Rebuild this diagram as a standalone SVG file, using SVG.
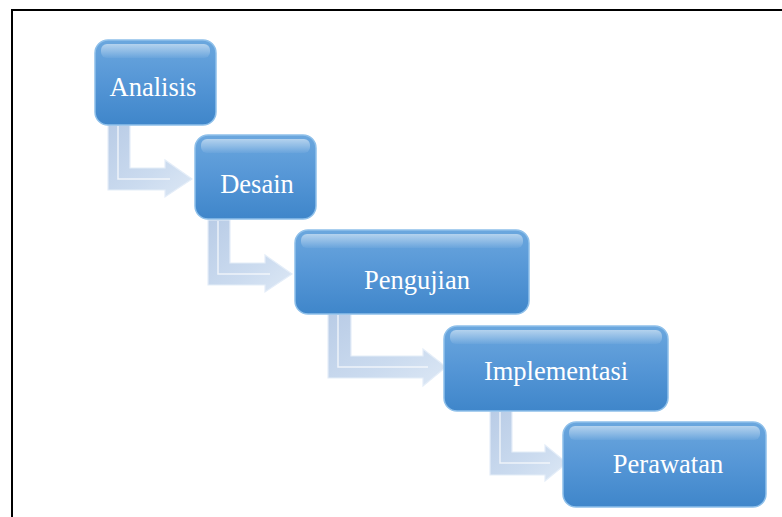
<svg xmlns="http://www.w3.org/2000/svg" width="782" height="517" viewBox="0 0 782 517">
<defs>
<linearGradient id="boxFill" x1="0" y1="0" x2="0" y2="1">
<stop offset="0" stop-color="#6ba7de"/>
<stop offset="0.5" stop-color="#5596d6"/>
<stop offset="1" stop-color="#3f86ca"/>
</linearGradient>
<linearGradient id="gloss" x1="0" y1="0" x2="0" y2="1">
<stop offset="0" stop-color="#ffffff" stop-opacity="0.5"/>
<stop offset="1" stop-color="#ffffff" stop-opacity="0.05"/>
</linearGradient>
<linearGradient id="arrowFill" x1="0" y1="0" x2="1" y2="1">
<stop offset="0" stop-color="#b9cce6"/>
<stop offset="0.6" stop-color="#cbdbef"/>
<stop offset="1" stop-color="#dde8f5"/>
</linearGradient>
<style>
.box{fill:url(#boxFill);stroke:#8fc0ea;stroke-width:1.5}
.gl{fill:url(#gloss)}
.lbl{font-family:"Liberation Serif","Times New Roman",serif;font-size:26.5px;fill:#ffffff;text-anchor:middle}
.arr{fill:url(#arrowFill);stroke:#e4edf8;stroke-width:1.2;stroke-linejoin:miter}
.bev{fill:none;stroke:#ffffff;stroke-width:1.5;stroke-opacity:0.7}
.frame{stroke:#000;stroke-width:2;fill:none}
</style>
</defs>
<rect width="782" height="517" fill="#ffffff"/>
<path class="frame" d="M12,517 V10 H782"/>
<g id="connectors">
<polygon class="arr" points="108,125 130,125 130,168 165,168 165,160 192,179 165,197 165,190 108,190"/>
<polyline class="bev" points="118,126 118,179 170,179"/>
<polygon class="arr" points="208,220 230,220 230,263 265,263 265,255 292,274 265,292 265,285 208,285"/>
<polyline class="bev" points="218,221 218,274 270,274"/>
<polygon class="arr" points="328,314 351,314 351,356 423,356 423,349 446,367 423,386 423,378 328,378"/>
<polyline class="bev" points="338,315 338,367 428,367"/>
<polygon class="arr" points="490,411 512,411 512,452 545,452 545,445 567,463 545,481 545,475 490,475"/>
<polyline class="bev" points="500,412 500,463 550,463"/>
</g>
<g id="analisis">
<rect class="box" x="95" y="40" width="121" height="85" rx="13"/>
<rect class="gl" x="101" y="44" width="109" height="14" rx="6"/>
<text class="lbl" x="153" y="96">Analisis</text>
</g>
<g id="desain">
<rect class="box" x="195" y="135" width="121" height="84" rx="13"/>
<rect class="gl" x="201" y="139" width="109" height="14" rx="6"/>
<text class="lbl" x="257" y="193">Desain</text>
</g>
<g id="pengujian">
<rect class="box" x="295" y="230" width="234" height="84" rx="13"/>
<rect class="gl" x="301" y="234" width="222" height="14" rx="6"/>
<text class="lbl" x="417" y="289">Pengujian</text>
</g>
<g id="implementasi">
<rect class="box" x="444" y="326" width="224" height="85" rx="13"/>
<rect class="gl" x="450" y="330" width="212" height="14" rx="6"/>
<text class="lbl" x="556" y="380">Implementasi</text>
</g>
<g id="perawatan">
<rect class="box" x="563" y="422" width="203" height="85" rx="13"/>
<rect class="gl" x="569" y="426" width="191" height="14" rx="6"/>
<text class="lbl" x="668" y="473">Perawatan</text>
</g>
</svg>
